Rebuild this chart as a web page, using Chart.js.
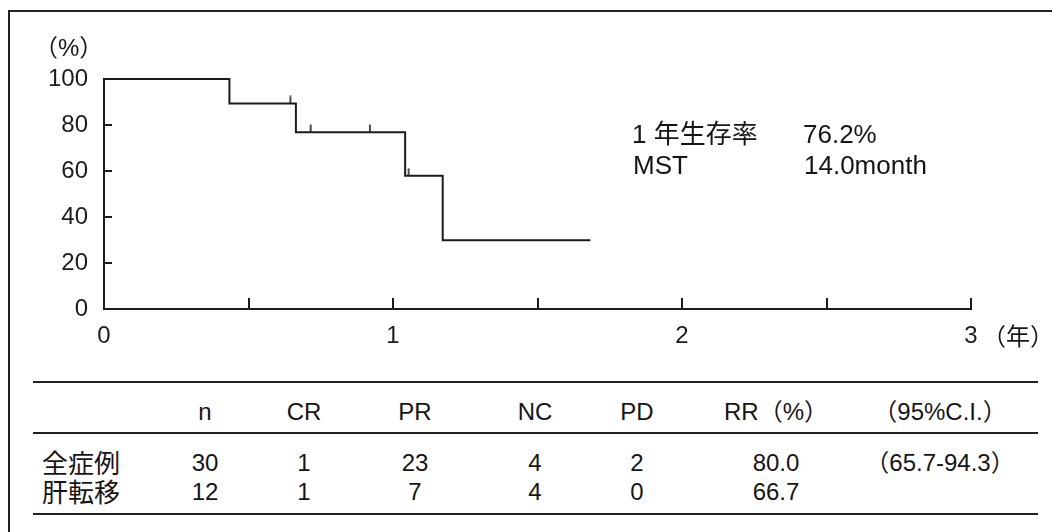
<!DOCTYPE html>
<html lang="ja">
<head>
<meta charset="utf-8">
<title>生存曲線</title>
<script src="https://cdn.jsdelivr.net/npm/chart.js@4.4.0/dist/chart.umd.min.js"></script>
<style>
    html, body { margin: 0; padding: 0; background: #fff; }
    body {
        width: 1052px; height: 532px; position: relative; overflow: hidden;
        font-family: "Liberation Sans", Arial, "Noto Sans CJK JP", sans-serif;
        color: #151515;
    }
    .frame {
        position: absolute; left: 8px; top: 10px; width: 1100px; height: 600px;
        border-top: 2px solid #222; border-left: 2px solid #222;
    }
    #chart-wrap { position: absolute; left: 0; top: 0; width: 1052px; height: 370px; }
    .txt { position: absolute; white-space: nowrap; line-height: 1; font-size: 24px; }
    .note { font-size: 26px; }
    .rule { position: absolute; left: 33px; width: 1005px; border-top: 2px solid #222; }
    .cell { position: absolute; white-space: nowrap; line-height: 1; font-size: 24px; transform: translateX(-50%); }
    .rowlabel { position: absolute; white-space: nowrap; line-height: 1; font-size: 26px;
        font-family: "Noto Sans CJK JP", sans-serif; }
</style>
</head>
<body>
<div class="frame"></div>
<div id="chart-wrap"><canvas id="survChart" width="1052" height="370"></canvas></div>

<div class="txt" style="left:34px; top:36px;">（%）</div>
<div class="txt" style="left:982px; top:325px;">（年）</div>

<div class="txt note" style="left:632px; top:121px;">1 年生存率</div>
<div class="txt note" style="left:803px; top:121px;">76.2%</div>
<div class="txt note" style="left:633px; top:152px;">MST</div>
<div class="txt note" style="left:804px; top:152px;">14.0month</div>

<div class="rule" style="top:381px;"></div>
<div class="rule" style="top:432px;"></div>
<div class="rule" style="top:513px;"></div>
<div id="table"></div>

<script>
// Survival curve (Kaplan-Meier)
const eventTimes = [0, 0.434, 0.664, 1.042, 1.172, 1.683];
const survival = [100, 89.4, 76.9, 57.9, 29.9, 29.9];
const censorTimes = [0.645, 0.715, 0.920, 1.054];
const censorSurv = [89.4, 76.9, 76.9, 57.9];

const yTicks = [0, 20, 40, 60, 80, 100];
const yTickMarks = [20, 40, 60, 80];
const xTickMarks = [0.5, 1, 1.5, 2, 2.5, 3];

// Response table
const tableHeaders = ['n', 'CR', 'PR', 'NC', 'PD', 'RR（%）', '（95%C.I.）'];
const rowLabels = ['全症例', '肝転移'];
const rowAll = ['30', '1', '23', '4', '2', '80.0', '（65.7-94.3）'];
const rowLiver = ['12', '1', '7', '4', '0', '66.7', ''];

const ink = '#1c1c1c';

// Build the table
const colCenters = [205, 304, 415, 535, 637, 776, 940];
const rowTops = [451, 480];
const tableEl = document.getElementById('table');
function addCell(text, x, y, cls) {
    const d = document.createElement('div');
    d.className = cls;
    d.textContent = text;
    d.style.left = x + 'px';
    d.style.top = y + 'px';
    tableEl.appendChild(d);
}
tableHeaders.forEach((h, i) => addCell(h, colCenters[i], 400, 'cell'));
[rowAll, rowLiver].forEach((row, r) => {
    addCell(rowLabels[r], 42, rowTops[r] - 2, 'rowlabel');
    row.forEach((v, i) => { if (v) addCell(v, colCenters[i], rowTops[r], 'cell'); });
});

// Censor mark: short vertical stroke rising from the curve
const censorMark = document.createElement('canvas');
censorMark.width = 4;
censorMark.height = 16;
(function () {
    const c = censorMark.getContext('2d');
    c.strokeStyle = ink;
    c.lineWidth = 1.6;
    c.beginPath();
    c.moveTo(2, 0.5);
    c.lineTo(2, 8);
    c.stroke();
})();

// Inward tick marks on both axes
const innerTicks = {
    id: 'innerTicks',
    afterDatasetsDraw(chart) {
        const { ctx, scales: { x, y }, chartArea } = chart;
        ctx.save();
        ctx.strokeStyle = ink;
        ctx.lineWidth = 2;
        xTickMarks.forEach(v => {
            const px = Math.round(x.getPixelForValue(v));
            ctx.beginPath();
            ctx.moveTo(px, chartArea.bottom);
            ctx.lineTo(px, chartArea.bottom - 11);
            ctx.stroke();
        });
        yTickMarks.forEach(v => {
            const py = Math.round(y.getPixelForValue(v));
            ctx.beginPath();
            ctx.moveTo(chartArea.left, py);
            ctx.lineTo(chartArea.left + 8, py);
            ctx.stroke();
        });
        ctx.restore();
    }
};

const ctx = document.getElementById('survChart').getContext('2d');
new Chart(ctx, {
    type: 'line',
    data: {
        datasets: [{
            label: 'survival',
            data: eventTimes.map((t, i) => ({ x: t, y: survival[i] })),
            stepped: 'before',
            borderColor: ink,
            borderWidth: 2,
            pointRadius: 0,
            fill: false,
            clip: false
        }, {
            label: 'censored',
            type: 'scatter',
            data: censorTimes.map((t, i) => ({ x: t, y: censorSurv[i] })),
            pointStyle: censorMark,
            pointRadius: 6,
            showLine: false,
            clip: false
        }]
    },
    options: {
        responsive: false,
        animation: false,
        devicePixelRatio: 1,
        layout: { padding: { left: 0, top: 79, right: 81, bottom: 0 } },
        plugins: { legend: { display: false }, tooltip: { enabled: false } },
        scales: {
            x: {
                type: 'linear',
                min: 0,
                max: 3,
                border: { display: true, color: ink, width: 2 },
                grid: { display: false, drawTicks: false },
                ticks: {
                    stepSize: 1,
                    color: ink,
                    padding: 13,
                    maxRotation: 0,
                    font: { family: '"Liberation Sans", Arial, sans-serif', size: 24 }
                },
                afterFit(scale) { scale.height = 61; }
            },
            y: {
                min: 0,
                max: 100,
                border: { display: true, color: ink, width: 2 },
                grid: { display: false, drawTicks: false },
                afterBuildTicks(scale) { scale.ticks = yTicks.map(v => ({ value: v })); },
                ticks: {
                    color: ink,
                    padding: 16,
                    font: { family: '"Liberation Sans", Arial, sans-serif', size: 24 }
                },
                afterFit(scale) { scale.width = 104; }
            }
        }
    },
    plugins: [innerTicks]
});
</script>
</body>
</html>
